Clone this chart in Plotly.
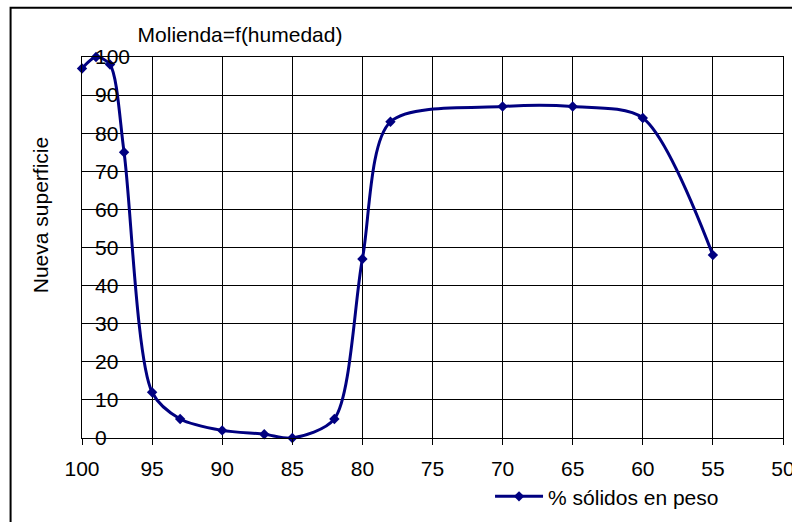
import plotly.graph_objects as go

# Data
solidos = [100, 99, 98, 97, 95, 93, 90, 87, 85, 82, 80, 78, 70, 65, 60, 55]
superficie = [97, 100, 98, 75, 12, 5, 2, 1, 0, 5, 47, 83, 87, 87, 84, 48]
x_ticks = [100, 95, 90, 85, 80, 75, 70, 65, 60, 55, 50]
y_ticks = [0, 10, 20, 30, 40, 50, 60, 70, 80, 90, 100]

FONT = "Liberation Sans, Arial, sans-serif"
NAVY = "#000080"
FS = 21

L, R, T, B = 81.5, 8.7, 57.3, 83.7
W, H = 792, 522
pw = W - L - R
ph = H - T - B

def px_x(p):
    return (p - L) / pw

def px_y(p):
    return (H - B - p) / ph

fig = go.Figure()
fig.add_trace(go.Scatter(
    x=solidos, y=superficie, mode="lines+markers",
    name="% sólidos en peso", cliponaxis=False,
    line=dict(color=NAVY, width=3, shape="spline", smoothing=0.8),
    marker=dict(symbol="diamond", size=8, color=NAVY),
))

fig.update_layout(
    width=W, height=H,
    margin=dict(l=L, r=R, t=T, b=B, autoexpand=False),
    paper_bgcolor="white", plot_bgcolor="white",
    font=dict(family=FONT, size=FS, color="black"),
    title=dict(text="Molienda=f(humedad)", x=240 / W, y=1 - 35 / H,
               xanchor="center", yanchor="middle", xref="container", yref="container",
               font=dict(size=FS, family=FONT, color="black")),
    showlegend=True,
    legend=dict(orientation="h", x=px_x(490), y=px_y(497), xanchor="left", yanchor="middle",
                font=dict(size=FS, family=FONT), bgcolor="rgba(0,0,0,0)", itemwidth=48),
    xaxis=dict(range=[100, 50], tickvals=x_ticks, ticktext=[str(v) for v in x_ticks],
               showgrid=True, gridcolor="black", gridwidth=1,
               showline=True, linecolor="black", linewidth=1, mirror=True,
               ticks="outside", ticklen=6, tickcolor="black", tickwidth=1,
               ticklabelstandoff=6, ticklabeloverflow="allow", automargin=False,
               zeroline=False, tickfont=dict(size=FS, family=FONT)),
    yaxis=dict(range=[0, 100], tickvals=y_ticks,
               showgrid=True, gridcolor="black", gridwidth=1,
               showline=True, linecolor="black", linewidth=1, mirror=True,
               ticks="", showticklabels=False, zeroline=False, automargin=False),
    yaxis2=dict(range=[0, 100], tickvals=y_ticks, ticktext=[str(v) for v in y_ticks],
                overlaying="y", anchor="free", position=0, side="left",
                showgrid=False, showline=False, zeroline=False, ticks="",
                ticklabelposition="inside", ticklabeloverflow="allow",
                ticklabelstandoff=9, automargin=False,
                tickfont=dict(size=FS, family=FONT, color="black")),
)

# invisible trace so the label axis is drawn
fig.add_trace(go.Scatter(x=[solidos[0]], y=[superficie[0]], yaxis="y2", mode="markers",
                         marker=dict(opacity=0), showlegend=False, hoverinfo="skip"))

fig.add_annotation(text="Nueva superficie", x=px_x(40), y=px_y(216), xref="paper", yref="paper",
                   textangle=-90, showarrow=False, xanchor="center", yanchor="middle",
                   font=dict(size=FS, family=FONT, color="black"))

# outer chart border (left and top edges visible; right/bottom beyond canvas)
fig.add_shape(type="rect", xref="paper", yref="paper",
              x0=px_x(10), x1=px_x(W + 20), y0=px_y(H + 20), y1=px_y(8),
              line=dict(color="black", width=2), layer="below")

fig.write_html("out.html")
